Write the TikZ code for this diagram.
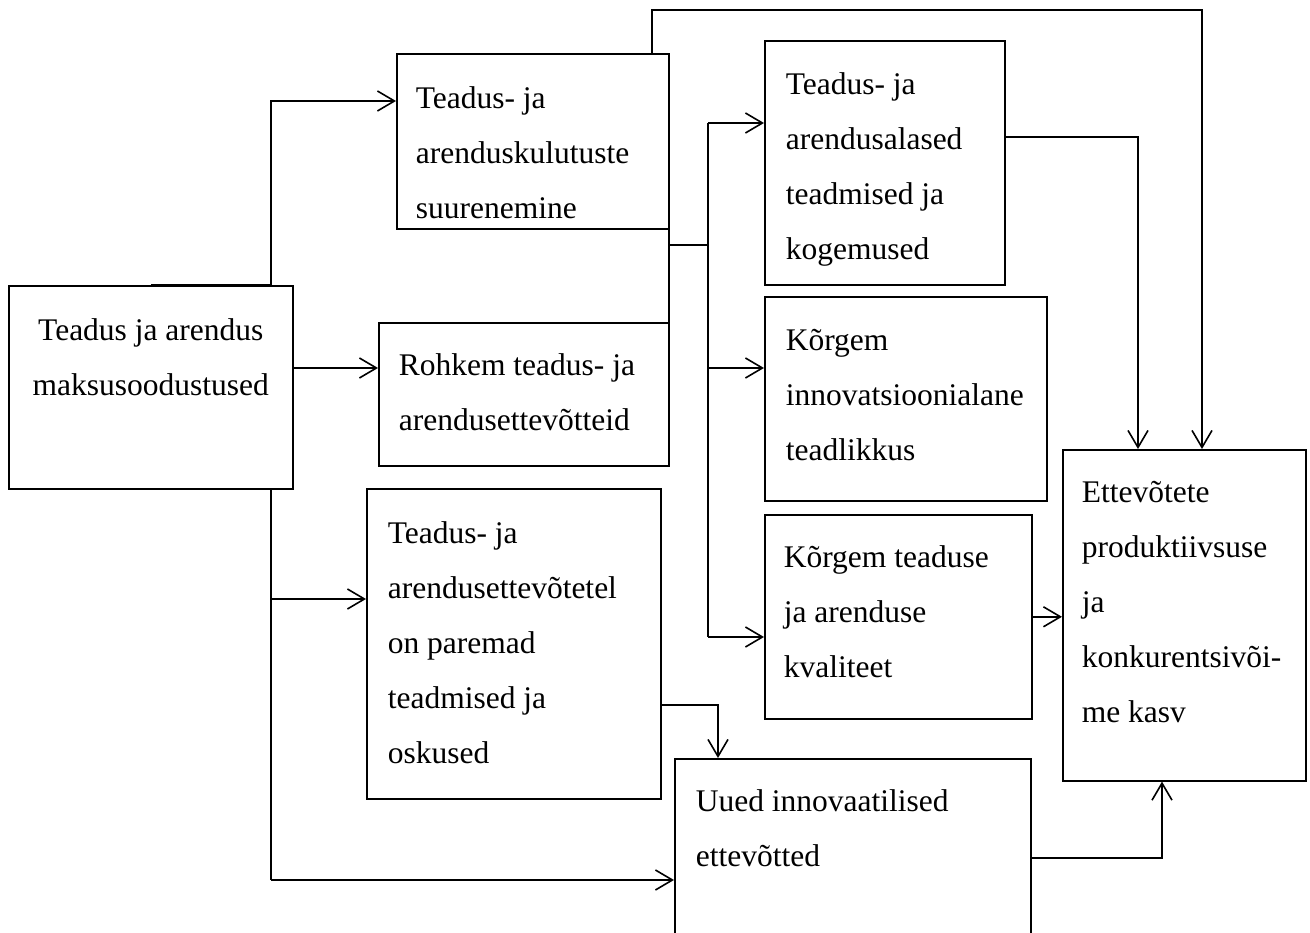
\documentclass[tikz,border=0pt]{standalone}
\usepackage{fontspec}
\setmainfont{Liberation Serif}
\usetikzlibrary{arrows.meta, positioning}
\hyphenpenalty=10000
\exhyphenpenalty=10000

\begin{document}
\begin{tikzpicture}[
    x=1pt, y=-1pt,
    line width=1.6pt,
    >={Straight Barb[length=17pt, width=20pt]},
    every node/.style={font=\fontsize{31.5}{55}\selectfont},
    box/.style={draw, anchor=north west, align=flush left, inner ysep=0pt}
]
\useasboundingbox (0,0) rectangle (1310,933);

% Nodes
\node[box, align=flush center, inner xsep=17pt, text width=250pt, text height=55pt, text depth=148pt] (tax) at (8,285) {Teadus ja arendus\\maksusoodustused};
\node[box, inner xsep=19pt, text width=234pt, text height=55pt, text depth=120pt] (spend) at (396,53) {Teadus- ja\\arenduskulutuste\\suurenemine};
\node[box, inner xsep=20pt, text width=250pt, text height=53pt, text depth=90pt] (firms) at (378,322) {Rohkem teadus- ja\\arendusettevõtteid};
\node[box, inner xsep=21pt, text width=252pt, text height=55pt, text depth=255pt] (skills) at (366,488) {Teadus- ja\\arendusettevõtetel\\on paremad\\teadmised ja\\oskused};
\node[box, inner xsep=21pt, text width=314pt, text height=53pt, text depth=134pt] (newfirms) at (674,758) {Uued innovaatilised\\ettevõtted};
\node[box, inner xsep=21pt, text width=198pt, text height=54pt, text depth=190pt] (know) at (764,40) {Teadus- ja\\arendusalased\\teadmised ja\\kogemused};
\node[box, inner xsep=21pt, text width=240pt, text height=54pt, text depth=150pt] (aware) at (764,296) {Kõrgem\\innovatsioonialane\\teadlikkus};
\node[box, inner xsep=19pt, text width=229pt, text height=53pt, text depth=151pt] (quality) at (764,514) {Kõrgem teaduse\\ja arenduse\\kvaliteet};
\node[box, inner xsep=19pt, text width=205pt, text height=53pt, text depth=278pt] (growth) at (1062,449) {Ettevõtete\\produktiivsuse\\ja\\konkurentsivõi-\\me kasv};

% Bend points
\coordinate (toB) at (271,101);
\coordinate (toD) at (271,599);
\coordinate (toE) at (271,880);
\coordinate (bus) at (708,245);
\coordinate (busK) at (708,123);
\coordinate (busA) at (708,368);
\coordinate (busQ) at (708,637);
\coordinate (upS) at (652,10);
\coordinate (upG) at (1202,10);
\coordinate (downK) at (1138,137);
\coordinate (downS) at (718,705);
\coordinate (upN) at (1162,858);

% Arrows from the tax incentives
\draw[->] (tax.north) -| (toB) -- (toB -| spend.west);
\draw[->] (tax.east |- busA) -- (busA -| firms.west);
\draw (tax.south -| toD) -- (toE);
\draw[->] (toD) -- (toD -| skills.west);
\draw[->] (toE) -- (toE -| newfirms.west);

% Arrows for the middle column
\draw ([xshift=-0.8pt]spend.south east) -- ([xshift=-0.8pt]firms.north east);
\draw (spend.south east |- bus) -- (bus);
\draw (busK) -- (busQ);
\draw[->] (busK) -- (busK -| know.west);
\draw[->] (busA) -- (busA -| aware.west);
\draw[->] (busQ) -- (busQ -| quality.west);
\draw[->] (spend.north -| upS) -- (upS) -- (upG) -- (growth.north -| upG);
\draw[->] (skills.east |- downS) -- (downS) -- (newfirms.north -| downS);

% Arrows into growth
\draw[->] (know.east |- downK) -- (downK) -- (growth.north -| downK);
\draw[->] (quality.east) -- (quality.east -| growth.west);
\draw[->] (newfirms.east |- upN) -- (upN) -- (growth.south -| upN);

\end{tikzpicture}
\end{document}
